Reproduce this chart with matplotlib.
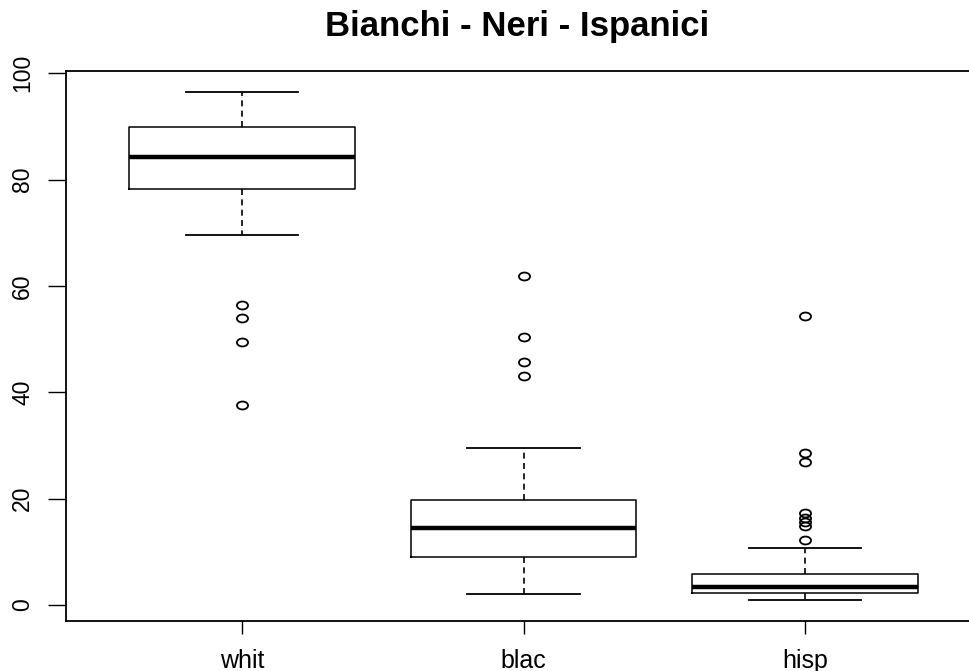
import matplotlib
matplotlib.use("Agg")
import matplotlib.pyplot as plt
from matplotlib.path import Path
from matplotlib.transforms import Affine2D

# summary statistics per group (percent)
gruppi = ["whit", "blac", "hisp"]
mediane = [84.3, 14.4, 3.4]
q1 = [78.2, 9.1, 2.2]
q3 = [89.8, 19.8, 5.9]
baffo_basso = [69.5, 2.1, 0.9]
baffo_alto = [96.5, 29.6, 10.8]
outlier_whit = [56.4, 54.0, 49.5, 37.7]
outlier_blac = [61.9, 50.3, 45.6, 43.1]
outlier_hisp = [54.4, 28.5, 26.8, 17.3, 16.3, 15.6, 14.8, 12.3]
valori_y = [0, 20, 40, 60, 80, 100]

plt.rcParams['font.family'] = ['Liberation Sans', 'DejaVu Sans']

statistiche = []
for i, nome in enumerate(gruppi):
    statistiche.append({
        "label": nome,
        "med": mediane[i],
        "q1": q1[i],
        "q3": q3[i],
        "whislo": baffo_basso[i],
        "whishi": baffo_alto[i],
        "fliers": [outlier_whit, outlier_blac, outlier_hisp][i],
    })

# oval marker for outliers
ovale = Path.unit_circle().transformed(Affine2D().scale(1.4, 1.0))

fig = plt.figure(figsize=(9.7, 6.71), dpi=100)
ax = fig.add_axes([66 / 970, 50 / 671, 915 / 970, 550 / 671])

ax.bxp(statistiche, positions=[1, 2, 3], widths=0.8, capwidths=0.4,
       boxprops=dict(color="black", linewidth=1.1),
       medianprops=dict(color="black", linewidth=3.2, solid_capstyle="butt"),
       whiskerprops=dict(color="black", linewidth=1.2, linestyle=(0, (3.6, 2.6))),
       capprops=dict(color="black", linewidth=1.3),
       flierprops=dict(marker=ovale, markersize=8, markerfacecolor="none",
                       markeredgecolor="black", markeredgewidth=1.3, linestyle="none"))

ax.set_xlim(0.375, 3.625)
ax.set_ylim(-3.0, 100.4)
ax.set_yticks(valori_y)
ax.set_yticklabels([str(v) for v in valori_y], rotation=90, va="center", fontsize=16.5)
ax.set_xticks([1, 2, 3])
ax.set_xticklabels(gruppi, fontsize=18)

ax.tick_params(axis="y", length=13, width=1, pad=10, direction="out")
ax.tick_params(axis="x", length=9, width=1, pad=11, direction="out")
for lato in ["left", "bottom", "top"]:
    ax.spines[lato].set_linewidth(1.3)
ax.spines["right"].set_visible(False)

fig.text(517 / 970, 1 - 36 / 671, "Bianchi - Neri - Ispanici", ha="center",
         va="baseline", fontsize=25, fontweight="bold")

fig.savefig("out.png", dpi=100, facecolor="white")
